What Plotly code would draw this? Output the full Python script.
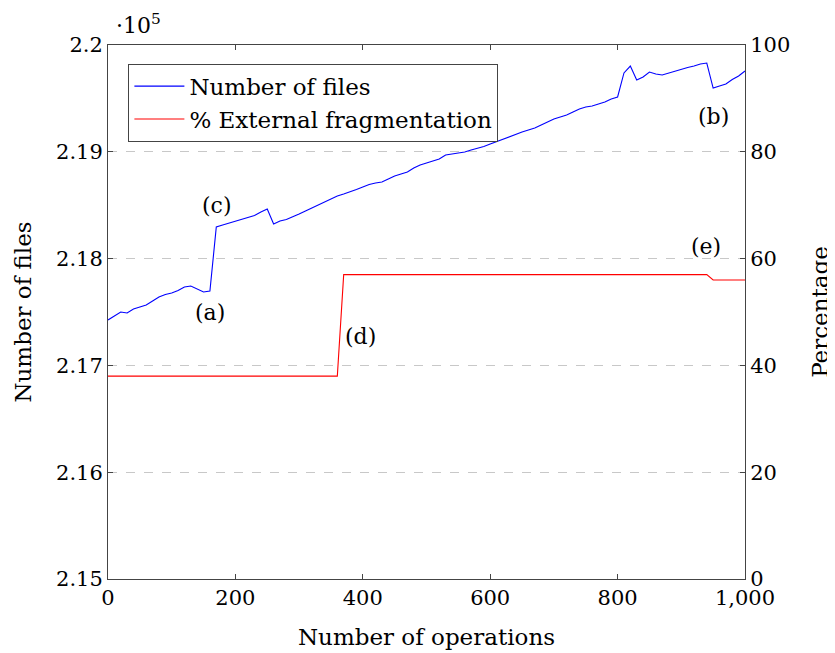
import plotly.graph_objects as go

# ---- data ----
operations = list(range(0, 1001, 10))
num_files = [
    217425, 217463, 217500, 217491, 217528, 217547, 217566, 217603, 217640, 217664,
    217678, 217701, 217734, 217743, 217715, 217687, 217697, 218296, 218315, 218333,
    218352, 218371, 218390, 218404, 218436, 218464, 218324, 218352, 218366, 218390,
    218418, 218446, 218474, 218507, 218535, 218558, 218586, 218605, 218624, 218647,
    218670, 218694, 218708, 218717, 218745, 218773, 218792, 218811, 218848, 218876,
    218895, 218914, 218933, 218970, 218979, 218989, 218998, 219017, 219031, 219050,
    219073, 219096, 219120, 219139, 219167, 219185, 219204, 219223, 219251, 219279,
    219307, 219326, 219345, 219373, 219401, 219419, 219429, 219448, 219466, 219494,
    219513, 219738, 219803, 219672, 219700, 219747, 219728, 219719, 219738, 219752,
    219771, 219789, 219803, 219822, 219831, 219597, 219616, 219635, 219677, 219710,
    219757,
]
frag_ops = [0, 360, 370, 940, 950, 1000]
frag_pct = [38, 38, 57, 57, 56, 56]

left_tickvals = [215000, 216000, 217000, 218000, 219000, 220000]
left_ticktext = ["2.15", "2.16", "2.17", "2.18", "2.19", "2.2"]

labels = ["(a)", "(b)", "(c)", "(d)", "(e)"]
label_x = [160, 950, 171, 396, 939]
label_y = [217500, 219335, 218493, 217266, 218109]

FONT = "DejaVu Serif"
FS = 21
FT = 23
AX = "#444444"

fig = go.Figure()
fig.add_trace(go.Scatter(x=operations, y=num_files, mode="lines",
                         line=dict(color="#0000ff", width=1.1),
                         name="Number of files"))
fig.add_trace(go.Scatter(x=frag_ops, y=frag_pct, mode="lines",
                         line=dict(color="#ff0000", width=1.1),
                         name="% External fragmentation", yaxis="y2"))

for t, x, y in zip(labels, label_x, label_y):
    fig.add_annotation(x=x, y=y, xref="x", yref="y", text=t, showarrow=False,
                       font=dict(family=FONT, size=22, color="black"))

fig.add_annotation(x=0, y=1.0, xref="paper", yref="paper", xanchor="left",
                   yanchor="bottom", xshift=6, yshift=5, showarrow=False,
                   text="·10<sup>5</sup>", font=dict(family=FONT, size=22, color="black"))

fig.update_layout(
    width=835, height=653,
    margin=dict(l=100, r=98, t=37, b=82, autoexpand=False),
    paper_bgcolor="white", plot_bgcolor="white",
    font=dict(family=FONT, size=FS, color="black"),
    showlegend=True,
    legend=dict(x=0.032, y=0.965, xanchor="left", yanchor="top",
                bgcolor="white", bordercolor=AX, borderwidth=1,
                font=dict(family=FONT, size=FT), itemwidth=50,
                tracegroupgap=0),
    xaxis=dict(range=[0, 1000], tickvals=[0, 200, 400, 600, 800, 1000],
               tickformat=",d", ticks="inside", ticklen=5, tickcolor=AX,
               showline=True, linecolor=AX, linewidth=1, mirror="ticks",
               showgrid=False, zeroline=False, automargin=False,
               title=dict(text="Number of operations", standoff=19,
                          font=dict(family=FONT, size=FT)),
               tickfont=dict(family=FONT, size=FS)),
    yaxis=dict(range=[215000, 220000], tickvals=left_tickvals, ticktext=left_ticktext,
               ticks="inside", ticklen=5, tickcolor=AX,
               showline=True, linecolor=AX, linewidth=1,
               showgrid=True, gridcolor="#c8c8c8", griddash="dash", gridwidth=1,
               zeroline=False, automargin=False,
               title=dict(text="Number of files", standoff=17,
                          font=dict(family=FONT, size=FT)),
               tickfont=dict(family=FONT, size=FS)),
    yaxis2=dict(range=[0, 100], tickvals=[0, 20, 40, 60, 80, 100],
                overlaying="y", side="right",
                ticks="inside", ticklen=5, tickcolor=AX,
                showline=True, linecolor=AX, linewidth=1,
                showgrid=False, zeroline=False, automargin=False,
                title=dict(text="Percentage", standoff=22,
                           font=dict(family=FONT, size=FT)),
                tickfont=dict(family=FONT, size=FS)),
)

fig.write_html("out.html")
